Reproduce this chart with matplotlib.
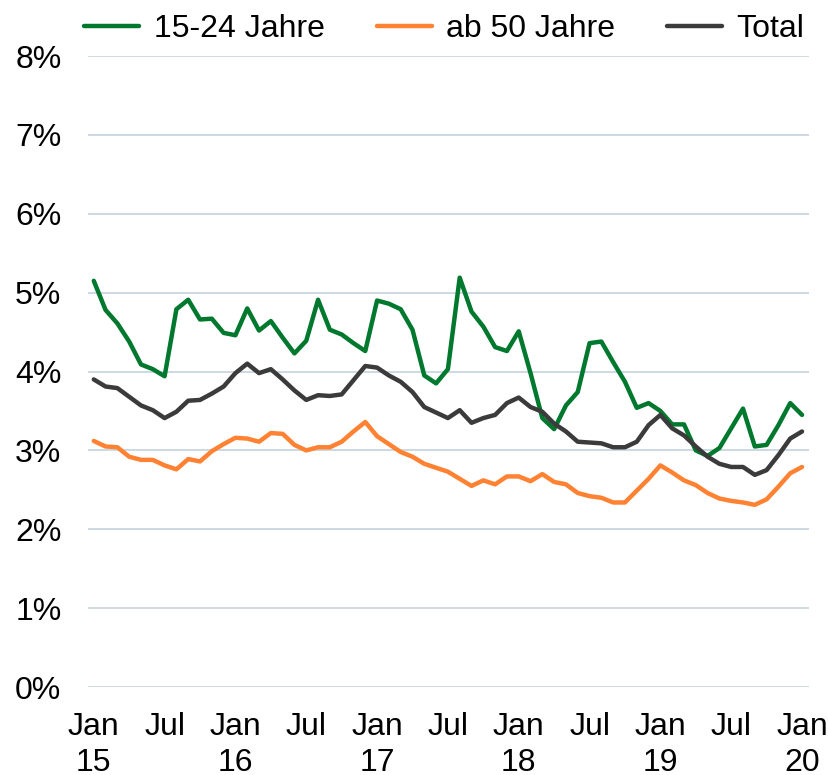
import matplotlib
matplotlib.use("Agg")
import matplotlib.pyplot as plt
import numpy as np

plt.rcParams['font.family'] = ['Liberation Sans', 'DejaVu Sans']

# monthly values Jan 2015 .. Jan 2020, in percent
youth = [5.15, 4.78, 4.61, 4.38, 4.09, 4.03, 3.94, 4.79, 4.91, 4.66, 4.67, 4.49,
         4.46, 4.80, 4.52, 4.64, 4.43, 4.23, 4.39, 4.91, 4.53, 4.47, 4.36, 4.26,
         4.90, 4.86, 4.79, 4.53, 3.95, 3.85, 4.03, 5.19, 4.76, 4.57, 4.31, 4.26,
         4.51, 3.98, 3.41, 3.27, 3.57, 3.74, 4.36, 4.38, 4.12, 3.87, 3.54, 3.60,
         3.50, 3.33, 3.33, 3.00, 2.93, 3.03, 3.28, 3.53, 3.05, 3.07, 3.32, 3.60,
         3.45]
older = [3.12, 3.05, 3.04, 2.92, 2.88, 2.88, 2.81, 2.76, 2.89, 2.86, 2.99, 3.08,
         3.16, 3.15, 3.11, 3.22, 3.21, 3.07, 3.00, 3.04, 3.04, 3.11, 3.24, 3.36,
         3.18, 3.08, 2.98, 2.92, 2.83, 2.78, 2.73, 2.64, 2.55, 2.62, 2.57, 2.67,
         2.67, 2.61, 2.70, 2.60, 2.57, 2.46, 2.42, 2.40, 2.34, 2.34, 2.49, 2.64,
         2.81, 2.72, 2.62, 2.56, 2.46, 2.39, 2.36, 2.34, 2.31, 2.38, 2.54, 2.71,
         2.79]
total = [3.90, 3.81, 3.79, 3.68, 3.57, 3.51, 3.41, 3.49, 3.63, 3.64, 3.72, 3.81,
         3.98, 4.10, 3.98, 4.03, 3.90, 3.76, 3.64, 3.70, 3.69, 3.71, 3.89, 4.07,
         4.05, 3.95, 3.87, 3.74, 3.55, 3.48, 3.41, 3.51, 3.35, 3.41, 3.45, 3.60,
         3.67, 3.55, 3.49, 3.34, 3.24, 3.11, 3.10, 3.09, 3.04, 3.04, 3.11, 3.32,
         3.45, 3.28, 3.19, 3.05, 2.92, 2.83, 2.79, 2.79, 2.69, 2.75, 2.94, 3.15,
         3.24]
tick_labels = ["Jan\n15", "Jul", "Jan\n16", "Jul", "Jan\n17", "Jul", "Jan\n18",
               "Jul", "Jan\n19", "Jul", "Jan\n20"]
series_names = ["15-24 Jahre", "ab 50 Jahre", "Total"]

months = np.arange(len(total))

fig = plt.figure(figsize=(8.29, 7.75), dpi=100)
ax = fig.add_axes([0.106, 0.1135, 0.87, 0.8142])

style = dict(lw=3.2, solid_joinstyle='round', solid_capstyle='round')
ax.plot(months, youth, color='#00782D', label=series_names[0], **style)
ax.plot(months, older, color='#FF8233', label=series_names[1], **style)
ax.plot(months, total, color='#3B3B3B', label=series_names[2], **style)

ax.set_xlim(-0.5, 60.6)
ax.set_ylim(0, 8)
ax.set_yticks(range(0, 9))
ax.set_yticklabels([f"{v}%" for v in range(0, 9)])
ax.set_xticks(np.arange(0, 61, 6))
ax.set_xticklabels(tick_labels, linespacing=1.26)

ax.grid(axis='y', color='#C9D7E0', lw=1.3)
ax.set_axisbelow(True)
for s in ax.spines.values():
    s.set_visible(False)
ax.tick_params(axis='both', length=0, labelsize=23)
ax.tick_params(axis='y', pad=19)
ax.tick_params(axis='x', pad=18)

fig.legend(loc='center', bbox_to_anchor=(0.536, 0.962), ncol=3, frameon=False,
           fontsize=23, handlelength=1.72, handletextpad=0.45, columnspacing=1.63)

fig.savefig("out.png", dpi=100)
